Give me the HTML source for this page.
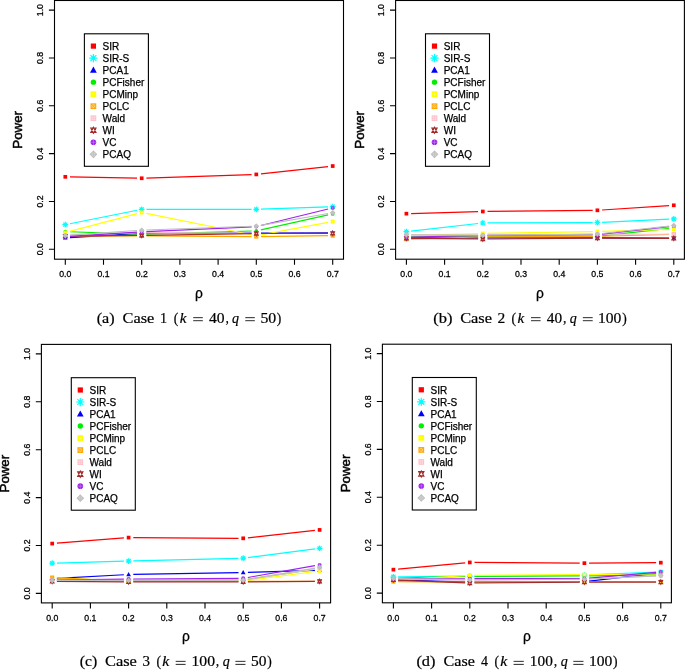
<!DOCTYPE html>
<html><head><meta charset="utf-8"><title>Power curves</title>
<style>html,body{margin:0;padding:0;background:#fff;}body{width:685px;height:670px;overflow:hidden;}svg{display:block;}</style>
</head><body>
<svg width="685" height="670" viewBox="0 0 685 670">
<defs><filter id="bl" x="0" y="0" width="1" height="1"><feGaussianBlur stdDeviation="0.3"/></filter></defs>
<rect width="685" height="670" fill="#fff"/>
<g filter="url(#bl)">
<path d="M70 176.91L137 178.17M146.4 178.1L251.6 174.59M260.97 173.92L328.03 166.57" stroke="#ff0000" stroke-width="1.2" fill="none"/>
<rect x="63.45" y="174.97" width="3.7" height="3.7" fill="#ff0000"/>
<rect x="139.85" y="176.41" width="3.7" height="3.7" fill="#ff0000"/>
<rect x="254.45" y="172.58" width="3.7" height="3.7" fill="#ff0000"/>
<rect x="330.85" y="164.21" width="3.7" height="3.7" fill="#ff0000"/>
<path d="M69.91 223.74L137.09 210.28M146.4 209.35L251.6 209.35M261 209.19L328 206.88" stroke="#00ffff" stroke-width="1.2" fill="none"/>
<path d="M62.41 224.66H68.19M65.3 221.78V227.55M63.26 222.62L67.34 226.7M63.26 226.7L67.34 222.62" stroke="#00ffff" stroke-width="1.2" fill="none"/><circle cx="65.3" cy="224.66" r="1.25" fill="#00ffff"/>
<path d="M138.81 209.35H144.59M141.7 206.47V212.24M139.66 207.31L143.74 211.39M139.66 211.39L143.74 207.31" stroke="#00ffff" stroke-width="1.2" fill="none"/><circle cx="141.7" cy="209.35" r="1.25" fill="#00ffff"/>
<path d="M253.41 209.35H259.19M256.3 206.47V212.24M254.26 207.31L258.34 211.39M254.26 211.39L258.34 207.31" stroke="#00ffff" stroke-width="1.2" fill="none"/><circle cx="256.3" cy="209.35" r="1.25" fill="#00ffff"/>
<path d="M329.81 206.72H335.59M332.7 203.84V209.61M330.66 204.68L334.74 208.76M330.66 208.76L334.74 204.68" stroke="#00ffff" stroke-width="1.2" fill="none"/><circle cx="332.7" cy="206.72" r="1.25" fill="#00ffff"/>
<path d="M69.99 237.54L137.01 233.55M146.4 233.26L251.6 233.04M261 233.02L328 232.81" stroke="#0000ff" stroke-width="1.2" fill="none"/>
<path d="M65.3 235.32L67.67 239.57L62.93 239.57Z" fill="#0000ff"/>
<path d="M141.7 230.78L144.07 235.02L139.33 235.02Z" fill="#0000ff"/>
<path d="M256.3 230.54L258.67 234.78L253.93 234.78Z" fill="#0000ff"/>
<path d="M332.7 230.3L335.07 234.54L330.33 234.54Z" fill="#0000ff"/>
<path d="M70 231.76L137 234.07M146.4 234.09L251.6 231.02M260.89 229.86L328.11 214.92" stroke="#00ee00" stroke-width="1.2" fill="none"/>
<circle cx="65.3" cy="231.6" r="1.87" fill="#00ee00"/>
<circle cx="141.7" cy="234.23" r="1.87" fill="#00ee00"/>
<circle cx="256.3" cy="230.88" r="1.87" fill="#00ee00"/>
<circle cx="332.7" cy="213.9" r="1.87" fill="#00ee00"/>
<path d="M69.85 231.36L137.15 213.66M146.31 213.4L251.69 234.73M260.92 234.81L328.08 222.41" stroke="#ffff00" stroke-width="1.2" fill="none"/>
<rect x="63.31" y="230.57" width="3.98" height="3.98" fill="#ffff00"/><rect x="64.75" y="232.01" width="1.1" height="1.1" fill="#fffbd0"/>
<rect x="139.71" y="210.47" width="3.98" height="3.98" fill="#ffff00"/><rect x="141.15" y="211.91" width="1.1" height="1.1" fill="#fffbd0"/>
<rect x="254.31" y="233.68" width="3.98" height="3.98" fill="#ffff00"/><rect x="255.75" y="235.12" width="1.1" height="1.1" fill="#fffbd0"/>
<rect x="330.71" y="219.56" width="3.98" height="3.98" fill="#ffff00"/><rect x="332.15" y="221" width="1.1" height="1.1" fill="#fffbd0"/>
<path d="M70 236.13L137 235.92M146.4 235.93L251.6 236.59M261 236.56L328 235.72" stroke="#ffa500" stroke-width="1.2" fill="none"/>
<rect x="63.85" y="234.69" width="2.9" height="2.9" fill="#fcd590" stroke="#ffa500" stroke-width="1.1"/><path d="M63.85 234.69L66.75 237.59M63.85 237.59L66.75 234.69" stroke="#ffa500" stroke-width="0.9"/>
<rect x="140.25" y="234.45" width="2.9" height="2.9" fill="#fcd590" stroke="#ffa500" stroke-width="1.1"/><path d="M140.25 234.45L143.15 237.35M140.25 237.35L143.15 234.45" stroke="#ffa500" stroke-width="0.9"/>
<rect x="254.85" y="235.17" width="2.9" height="2.9" fill="#fcd590" stroke="#ffa500" stroke-width="1.1"/><path d="M254.85 235.17L257.75 238.07M254.85 238.07L257.75 235.17" stroke="#ffa500" stroke-width="0.9"/>
<rect x="331.25" y="234.22" width="2.9" height="2.9" fill="#fcd590" stroke="#ffa500" stroke-width="1.1"/><path d="M331.25 234.22L334.15 237.12M331.25 237.12L334.15 234.22" stroke="#ffa500" stroke-width="0.9"/>
<path d="M70 235.47L137 232.75M146.4 232.6L251.6 233.47M261 233.51L328 233.51" stroke="#ffc0cb" stroke-width="1.2" fill="none"/>
<rect x="63.85" y="234.22" width="2.9" height="2.9" fill="#ffe0e6" stroke="#ffc0cb" stroke-width="1.1"/><path d="M63.85 235.67H66.75M65.3 234.22V237.12" stroke="#ffc0cb" stroke-width="0.8"/>
<rect x="140.25" y="231.11" width="2.9" height="2.9" fill="#ffe0e6" stroke="#ffc0cb" stroke-width="1.1"/><path d="M140.25 232.56H143.15M141.7 231.11V234.01" stroke="#ffc0cb" stroke-width="0.8"/>
<rect x="254.85" y="232.06" width="2.9" height="2.9" fill="#ffe0e6" stroke="#ffc0cb" stroke-width="1.1"/><path d="M254.85 233.51H257.75M256.3 232.06V234.96" stroke="#ffc0cb" stroke-width="0.8"/>
<rect x="331.25" y="232.06" width="2.9" height="2.9" fill="#ffe0e6" stroke="#ffc0cb" stroke-width="1.1"/><path d="M331.25 233.51H334.15M332.7 232.06V234.96" stroke="#ffc0cb" stroke-width="0.8"/>
<path d="M70 236.1L137 235.47M146.4 235.35L251.6 233.59M261 233.5L328 233.29" stroke="#a52a2a" stroke-width="1.2" fill="none"/>
<path d="M65.3 234.02L67.14 237.74L63.46 237.74ZM65.3 238.27L67.14 234.55L63.46 234.55Z" fill="none" stroke="#a52a2a" stroke-width="1.1" stroke-linejoin="miter"/>
<path d="M141.7 233.3L143.54 237.02L139.86 237.02ZM141.7 237.55L143.54 233.83L139.86 233.83Z" fill="none" stroke="#a52a2a" stroke-width="1.1" stroke-linejoin="miter"/>
<path d="M256.3 231.39L258.14 235.1L254.46 235.1ZM256.3 235.64L258.14 231.92L254.46 231.92Z" fill="none" stroke="#a52a2a" stroke-width="1.1" stroke-linejoin="miter"/>
<path d="M332.7 231.15L334.54 234.87L330.86 234.87ZM332.7 235.4L334.54 231.68L330.86 231.68Z" fill="none" stroke="#a52a2a" stroke-width="1.1" stroke-linejoin="miter"/>
<path d="M69.99 236.33L137.01 232.13M146.4 231.62L251.6 226.79M260.87 225.46L328.13 209.03" stroke="#a020f0" stroke-width="1.2" fill="none"/>
<circle cx="65.3" cy="236.62" r="1.95" fill="#a020f0"/><path d="M63.35 236.62H67.25M65.3 234.67V238.57" stroke="#c890f0" stroke-width="0.5"/>
<circle cx="141.7" cy="231.84" r="1.95" fill="#a020f0"/><path d="M139.75 231.84H143.65M141.7 229.89V233.79" stroke="#c890f0" stroke-width="0.5"/>
<circle cx="256.3" cy="226.58" r="1.95" fill="#a020f0"/><path d="M254.35 226.58H258.25M256.3 224.63V228.53" stroke="#c890f0" stroke-width="0.5"/>
<circle cx="332.7" cy="207.92" r="1.95" fill="#a020f0"/><path d="M330.75 207.92H334.65M332.7 205.97V209.87" stroke="#c890f0" stroke-width="0.5"/>
<path d="M69.99 235.1L137.01 230.49M146.4 230L251.6 226.26M260.93 225.29L328.07 213.51" stroke="#bebebe" stroke-width="1.2" fill="none"/>
<path d="M65.3 233.43L67.3 235.43L65.3 237.42L63.3 235.43Z" fill="#dcdcdc" stroke="#bebebe" stroke-width="1.1"/><path d="M63.3 235.43H67.3M65.3 233.43V237.42" stroke="#bebebe" stroke-width="0.8"/>
<path d="M141.7 228.17L143.7 230.16L141.7 232.16L139.7 230.16Z" fill="#dcdcdc" stroke="#bebebe" stroke-width="1.1"/><path d="M139.7 230.16H143.7M141.7 228.17V232.16" stroke="#bebebe" stroke-width="0.8"/>
<path d="M256.3 224.1L258.3 226.1L256.3 228.09L254.3 226.1Z" fill="#dcdcdc" stroke="#bebebe" stroke-width="1.1"/><path d="M254.3 226.1H258.3M256.3 224.1V228.09" stroke="#bebebe" stroke-width="0.8"/>
<path d="M332.7 210.71L334.7 212.7L332.7 214.7L330.7 212.7Z" fill="#dcdcdc" stroke="#bebebe" stroke-width="1.1"/><path d="M330.7 212.7H334.7M332.7 210.71V214.7" stroke="#bebebe" stroke-width="0.8"/>
<rect x="54.5" y="0.5" width="289" height="258.7" fill="none" stroke="#000" stroke-width="1.1"/>
<text transform="translate(42.6 249.3) rotate(-90) scale(0.94 1)" text-anchor="middle" font-family="Liberation Sans, sans-serif" stroke="#000" stroke-width="0.28" font-size="9.3">0.0</text>
<text transform="translate(42.6 201.46) rotate(-90) scale(0.94 1)" text-anchor="middle" font-family="Liberation Sans, sans-serif" stroke="#000" stroke-width="0.28" font-size="9.3">0.2</text>
<text transform="translate(42.6 153.62) rotate(-90) scale(0.94 1)" text-anchor="middle" font-family="Liberation Sans, sans-serif" stroke="#000" stroke-width="0.28" font-size="9.3">0.4</text>
<text transform="translate(42.6 105.78) rotate(-90) scale(0.94 1)" text-anchor="middle" font-family="Liberation Sans, sans-serif" stroke="#000" stroke-width="0.28" font-size="9.3">0.6</text>
<text transform="translate(42.6 57.94) rotate(-90) scale(0.94 1)" text-anchor="middle" font-family="Liberation Sans, sans-serif" stroke="#000" stroke-width="0.28" font-size="9.3">0.8</text>
<text transform="translate(42.6 10.1) rotate(-90) scale(0.94 1)" text-anchor="middle" font-family="Liberation Sans, sans-serif" stroke="#000" stroke-width="0.28" font-size="9.3">1.0</text>
<text transform="translate(65.3 277.3) scale(0.94 1)" text-anchor="middle" font-family="Liberation Sans, sans-serif" stroke="#000" stroke-width="0.28" font-size="9.3">0.0</text>
<text transform="translate(103.5 277.3) scale(0.94 1)" text-anchor="middle" font-family="Liberation Sans, sans-serif" stroke="#000" stroke-width="0.28" font-size="9.3">0.1</text>
<text transform="translate(141.7 277.3) scale(0.94 1)" text-anchor="middle" font-family="Liberation Sans, sans-serif" stroke="#000" stroke-width="0.28" font-size="9.3">0.2</text>
<text transform="translate(179.9 277.3) scale(0.94 1)" text-anchor="middle" font-family="Liberation Sans, sans-serif" stroke="#000" stroke-width="0.28" font-size="9.3">0.3</text>
<text transform="translate(218.1 277.3) scale(0.94 1)" text-anchor="middle" font-family="Liberation Sans, sans-serif" stroke="#000" stroke-width="0.28" font-size="9.3">0.4</text>
<text transform="translate(256.3 277.3) scale(0.94 1)" text-anchor="middle" font-family="Liberation Sans, sans-serif" stroke="#000" stroke-width="0.28" font-size="9.3">0.5</text>
<text transform="translate(294.5 277.3) scale(0.94 1)" text-anchor="middle" font-family="Liberation Sans, sans-serif" stroke="#000" stroke-width="0.28" font-size="9.3">0.6</text>
<text transform="translate(332.7 277.3) scale(0.94 1)" text-anchor="middle" font-family="Liberation Sans, sans-serif" stroke="#000" stroke-width="0.28" font-size="9.3">0.7</text>
<path d="M48.9 249.3H54.5M48.9 201.46H54.5M48.9 153.62H54.5M48.9 105.78H54.5M48.9 57.94H54.5M48.9 10.1H54.5M65.3 259.2V264.8M103.5 259.2V264.8M141.7 259.2V264.8M179.9 259.2V264.8M218.1 259.2V264.8M256.3 259.2V264.8M294.5 259.2V264.8M332.7 259.2V264.8" stroke="#000" stroke-width="1.1"/>
<text transform="translate(22.4 129.85) rotate(-90)" text-anchor="middle" font-family="Liberation Sans, sans-serif" stroke="#000" stroke-width="0.5" font-size="13.3">Power</text>
<text x="199" y="297.6" text-anchor="middle" font-family="Liberation Sans, sans-serif" stroke="#000" stroke-width="0.25" font-size="13.8">&#961;</text>
<rect x="84.4" y="33.8" width="64" height="132.5" fill="#fff" stroke="#000" stroke-width="1.1"/>
<rect x="90.8" y="43.5" width="5.2" height="5.2" fill="#ff0000"/>
<text x="102.6" y="50" font-family="Liberation Sans, sans-serif" stroke="#000" stroke-width="0.25" font-size="10">SIR</text>
<path d="M89.26 58.12H97.54M93.4 53.98V62.26M90.47 55.19L96.33 61.05M90.47 61.05L96.33 55.19" stroke="#00ffff" stroke-width="1.2" fill="none"/><circle cx="93.4" cy="58.12" r="1.79" fill="#00ffff"/>
<text x="102.6" y="62.02" font-family="Liberation Sans, sans-serif" stroke="#000" stroke-width="0.25" font-size="10">SIR-S</text>
<path d="M93.4 66.56L96.8 72.65L90 72.65Z" fill="#0000ff"/>
<text x="102.6" y="74.04" font-family="Liberation Sans, sans-serif" stroke="#000" stroke-width="0.25" font-size="10">PCA1</text>
<circle cx="93.4" cy="82.16" r="2.69" fill="#00ee00"/>
<text x="102.6" y="86.06" font-family="Liberation Sans, sans-serif" stroke="#000" stroke-width="0.25" font-size="10">PCFisher</text>
<rect x="90.54" y="91.32" width="5.71" height="5.71" fill="#ffff00"/><rect x="92.85" y="93.63" width="1.1" height="1.1" fill="#fffbd0"/>
<text x="102.6" y="98.08" font-family="Liberation Sans, sans-serif" stroke="#000" stroke-width="0.25" font-size="10">PCMinp</text>
<rect x="91.1" y="103.9" width="4.6" height="4.6" fill="#fcd590" stroke="#ffa500" stroke-width="1.1"/><path d="M91.1 103.9L95.7 108.5M91.1 108.5L95.7 103.9" stroke="#ffa500" stroke-width="0.9"/>
<text x="102.6" y="110.1" font-family="Liberation Sans, sans-serif" stroke="#000" stroke-width="0.25" font-size="10">PCLC</text>
<rect x="91.1" y="115.92" width="4.6" height="4.6" fill="#ffe0e6" stroke="#ffc0cb" stroke-width="1.1"/><path d="M91.1 118.22H95.7M93.4 115.92V120.52" stroke="#ffc0cb" stroke-width="0.8"/>
<text x="102.6" y="122.12" font-family="Liberation Sans, sans-serif" stroke="#000" stroke-width="0.25" font-size="10">Wald</text>
<path d="M93.4 127.19L96.04 132.53L90.76 132.53ZM93.4 133.29L96.04 127.95L90.76 127.95Z" fill="none" stroke="#a52a2a" stroke-width="1.1" stroke-linejoin="miter"/>
<text x="102.6" y="134.14" font-family="Liberation Sans, sans-serif" stroke="#000" stroke-width="0.25" font-size="10">WI</text>
<circle cx="93.4" cy="142.26" r="2.8" fill="#a020f0"/><path d="M90.6 142.26H96.2M93.4 139.46V145.06" stroke="#c890f0" stroke-width="0.5"/>
<text x="102.6" y="146.16" font-family="Liberation Sans, sans-serif" stroke="#000" stroke-width="0.25" font-size="10">VC</text>
<path d="M93.4 151.2L96.48 154.28L93.4 157.36L90.32 154.28Z" fill="#dcdcdc" stroke="#bebebe" stroke-width="1.1"/><path d="M90.32 154.28H96.48M93.4 151.2V157.36" stroke="#bebebe" stroke-width="0.8"/>
<text x="102.6" y="158.18" font-family="Liberation Sans, sans-serif" stroke="#000" stroke-width="0.25" font-size="10">PCAQ</text>
<text transform="translate(96.69 322.6) scale(1.187 1)" font-family="Liberation Serif, serif" stroke="#000" stroke-width="0.2" font-size="13.6">(a)</text>
<text transform="translate(122.53 322.6) scale(1.200 1)" font-family="Liberation Serif, serif" stroke="#000" stroke-width="0.2" font-size="13.6">Case</text>
<text transform="translate(159.95 322.6) scale(1.044 1)" font-family="Liberation Serif, serif" stroke="#000" stroke-width="0.2" font-size="13.6">1</text>
<text transform="translate(173.7 322.6) scale(1.000 1)" font-family="Liberation Serif, serif" stroke="#000" stroke-width="0.2" font-size="13.6">(</text>
<text transform="translate(179.76 322.6) scale(1.112 1)" font-family="Liberation Serif, serif" stroke="#000" stroke-width="0.2" font-size="13.6" font-style="italic">k</text>
<path d="M193.2 317.65H202.8M193.2 320.7H202.8" stroke="#222" stroke-width="0.95"/>
<text transform="translate(209 322.6) scale(1.147 1)" font-family="Liberation Serif, serif" stroke="#000" stroke-width="0.2" font-size="13.6">40</text>
<text transform="translate(225.48 322.6) scale(1.000 1)" font-family="Liberation Serif, serif" stroke="#000" stroke-width="0.2" font-size="13.6">,</text>
<text transform="translate(231.94 322.6) scale(1.028 1)" font-family="Liberation Serif, serif" stroke="#000" stroke-width="0.2" font-size="13.6" font-style="italic">q</text>
<path d="M245.3 317.65H254.8M245.3 320.7H254.8" stroke="#222" stroke-width="0.95"/>
<text transform="translate(260.38 322.6) scale(1.163 1)" font-family="Liberation Serif, serif" stroke="#000" stroke-width="0.2" font-size="13.6">50</text>
<text transform="translate(276.86 322.6) scale(1.000 1)" font-family="Liberation Serif, serif" stroke="#000" stroke-width="0.2" font-size="13.6">)</text>
<path d="M411.1 213.53L478.1 211.64M487.5 211.46L592.7 210.36M602.09 210L669.11 205.6" stroke="#ff0000" stroke-width="1.2" fill="none"/>
<rect x="404.55" y="211.81" width="3.7" height="3.7" fill="#ff0000"/>
<rect x="480.95" y="209.66" width="3.7" height="3.7" fill="#ff0000"/>
<rect x="595.55" y="208.46" width="3.7" height="3.7" fill="#ff0000"/>
<rect x="671.95" y="203.44" width="3.7" height="3.7" fill="#ff0000"/>
<path d="M411.07 231.07L478.13 223.51M487.5 222.97L592.7 222.53M602.09 222.29L669.11 219.14" stroke="#00ffff" stroke-width="1.2" fill="none"/>
<path d="M403.51 231.6H409.29M406.4 228.71V234.49M404.36 229.56L408.44 233.64M404.36 233.64L408.44 229.56" stroke="#00ffff" stroke-width="1.2" fill="none"/><circle cx="406.4" cy="231.6" r="1.25" fill="#00ffff"/>
<path d="M479.91 222.99H485.69M482.8 220.1V225.87M480.76 220.95L484.84 225.03M480.76 225.03L484.84 220.95" stroke="#00ffff" stroke-width="1.2" fill="none"/><circle cx="482.8" cy="222.99" r="1.25" fill="#00ffff"/>
<path d="M594.51 222.51H600.29M597.4 219.62V225.4M595.36 220.47L599.44 224.55M595.36 224.55L599.44 220.47" stroke="#00ffff" stroke-width="1.2" fill="none"/><circle cx="597.4" cy="222.51" r="1.25" fill="#00ffff"/>
<path d="M670.91 218.92H676.69M673.8 216.04V221.81M671.76 216.88L675.84 220.96M671.76 220.96L675.84 216.88" stroke="#00ffff" stroke-width="1.2" fill="none"/><circle cx="673.8" cy="218.92" r="1.25" fill="#00ffff"/>
<path d="M411.1 237.82L478.1 237.82M487.5 237.82L592.7 237.82M602.1 237.83L669.1 238.04" stroke="#0000ff" stroke-width="1.2" fill="none"/>
<path d="M406.4 235.32L408.77 239.57L404.03 239.57Z" fill="#0000ff"/>
<path d="M482.8 235.32L485.17 239.57L480.43 239.57Z" fill="#0000ff"/>
<path d="M597.4 235.32L599.77 239.57L595.03 239.57Z" fill="#0000ff"/>
<path d="M673.8 235.56L676.17 239.8L671.43 239.8Z" fill="#0000ff"/>
<path d="M411.1 236.14L478.1 236.14M487.5 236.15L592.7 236.37M602.07 235.86L669.13 228.3" stroke="#00ee00" stroke-width="1.2" fill="none"/>
<circle cx="406.4" cy="236.14" r="1.87" fill="#00ee00"/>
<circle cx="482.8" cy="236.14" r="1.87" fill="#00ee00"/>
<circle cx="597.4" cy="236.38" r="1.87" fill="#00ee00"/>
<circle cx="673.8" cy="227.77" r="1.87" fill="#00ee00"/>
<path d="M411.1 235.31L478.1 233.63M487.5 233.43L592.7 231.68M602.1 231.45L669.1 229.35" stroke="#ffff00" stroke-width="1.2" fill="none"/>
<rect x="404.41" y="233.44" width="3.98" height="3.98" fill="#ffff00"/><rect x="405.85" y="234.88" width="1.1" height="1.1" fill="#fffbd0"/>
<rect x="480.81" y="231.52" width="3.98" height="3.98" fill="#ffff00"/><rect x="482.25" y="232.96" width="1.1" height="1.1" fill="#fffbd0"/>
<rect x="595.41" y="229.61" width="3.98" height="3.98" fill="#ffff00"/><rect x="596.85" y="231.05" width="1.1" height="1.1" fill="#fffbd0"/>
<rect x="671.81" y="227.22" width="3.98" height="3.98" fill="#ffff00"/><rect x="673.25" y="228.66" width="1.1" height="1.1" fill="#fffbd0"/>
<path d="M411.1 239.11L478.1 237.01M487.5 236.84L592.7 236.4M602.1 236.25L669.1 234.36" stroke="#ffa500" stroke-width="1.2" fill="none"/>
<rect x="404.95" y="237.8" width="2.9" height="2.9" fill="#fcd590" stroke="#ffa500" stroke-width="1.1"/><path d="M404.95 237.8L407.85 240.7M404.95 240.7L407.85 237.8" stroke="#ffa500" stroke-width="0.9"/>
<rect x="481.35" y="235.41" width="2.9" height="2.9" fill="#fcd590" stroke="#ffa500" stroke-width="1.1"/><path d="M481.35 235.41L484.25 238.31M481.35 238.31L484.25 235.41" stroke="#ffa500" stroke-width="0.9"/>
<rect x="595.95" y="234.93" width="2.9" height="2.9" fill="#fcd590" stroke="#ffa500" stroke-width="1.1"/><path d="M595.95 234.93L598.85 237.83M595.95 237.83L598.85 234.93" stroke="#ffa500" stroke-width="0.9"/>
<rect x="672.35" y="232.78" width="2.9" height="2.9" fill="#fcd590" stroke="#ffa500" stroke-width="1.1"/><path d="M672.35 232.78L675.25 235.68M672.35 235.68L675.25 232.78" stroke="#ffa500" stroke-width="0.9"/>
<path d="M411.1 234.98L478.1 235.4M487.5 235.38L592.7 234.28M602.1 234.23L669.1 234.23" stroke="#ffc0cb" stroke-width="1.2" fill="none"/>
<rect x="404.95" y="233.5" width="2.9" height="2.9" fill="#ffe0e6" stroke="#ffc0cb" stroke-width="1.1"/><path d="M404.95 234.95H407.85M406.4 233.5V236.4" stroke="#ffc0cb" stroke-width="0.8"/>
<rect x="481.35" y="233.98" width="2.9" height="2.9" fill="#ffe0e6" stroke="#ffc0cb" stroke-width="1.1"/><path d="M481.35 235.43H484.25M482.8 233.98V236.88" stroke="#ffc0cb" stroke-width="0.8"/>
<rect x="595.95" y="232.78" width="2.9" height="2.9" fill="#ffe0e6" stroke="#ffc0cb" stroke-width="1.1"/><path d="M595.95 234.23H598.85M597.4 232.78V235.68" stroke="#ffc0cb" stroke-width="0.8"/>
<rect x="672.35" y="232.78" width="2.9" height="2.9" fill="#ffe0e6" stroke="#ffc0cb" stroke-width="1.1"/><path d="M672.35 234.23H675.25M673.8 232.78V235.68" stroke="#ffc0cb" stroke-width="0.8"/>
<path d="M411.1 238.34L478.1 238.97M487.5 238.98L592.7 238.1M602.1 238.07L669.1 238.28" stroke="#a52a2a" stroke-width="1.2" fill="none"/>
<path d="M406.4 236.17L408.24 239.89L404.56 239.89ZM406.4 240.42L408.24 236.71L404.56 236.71Z" fill="none" stroke="#a52a2a" stroke-width="1.1" stroke-linejoin="miter"/>
<path d="M482.8 236.89L484.64 240.61L480.96 240.61ZM482.8 241.14L484.64 237.42L480.96 237.42Z" fill="none" stroke="#a52a2a" stroke-width="1.1" stroke-linejoin="miter"/>
<path d="M597.4 235.94L599.24 239.65L595.56 239.65ZM597.4 240.18L599.24 236.47L595.56 236.47Z" fill="none" stroke="#a52a2a" stroke-width="1.1" stroke-linejoin="miter"/>
<path d="M673.8 236.17L675.64 239.89L671.96 239.89ZM673.8 240.42L675.64 236.71L671.96 236.71Z" fill="none" stroke="#a52a2a" stroke-width="1.1" stroke-linejoin="miter"/>
<path d="M411.1 237L478.1 235.53M487.5 235.4L592.7 234.74M602.07 234.18L669.13 226.62" stroke="#a020f0" stroke-width="1.2" fill="none"/>
<circle cx="406.4" cy="237.1" r="1.95" fill="#a020f0"/><path d="M404.45 237.1H408.35M406.4 235.15V239.05" stroke="#c890f0" stroke-width="0.5"/>
<circle cx="482.8" cy="235.43" r="1.95" fill="#a020f0"/><path d="M480.85 235.43H484.75M482.8 233.48V237.38" stroke="#c890f0" stroke-width="0.5"/>
<circle cx="597.4" cy="234.71" r="1.95" fill="#a020f0"/><path d="M595.45 234.71H599.35M597.4 232.76V236.66" stroke="#c890f0" stroke-width="0.5"/>
<circle cx="673.8" cy="226.1" r="1.95" fill="#a020f0"/><path d="M671.85 226.1H675.75M673.8 224.15V228.05" stroke="#c890f0" stroke-width="0.5"/>
<path d="M411.1 234.74L478.1 235.16M487.5 235.14L592.7 234.04M602.07 233.48L669.13 226.13" stroke="#bebebe" stroke-width="1.2" fill="none"/>
<path d="M406.4 232.71L408.4 234.71L406.4 236.7L404.4 234.71Z" fill="#dcdcdc" stroke="#bebebe" stroke-width="1.1"/><path d="M404.4 234.71H408.4M406.4 232.71V236.7" stroke="#bebebe" stroke-width="0.8"/>
<path d="M482.8 233.19L484.8 235.19L482.8 237.18L480.8 235.19Z" fill="#dcdcdc" stroke="#bebebe" stroke-width="1.1"/><path d="M480.8 235.19H484.8M482.8 233.19V237.18" stroke="#bebebe" stroke-width="0.8"/>
<path d="M597.4 232L599.4 233.99L597.4 235.99L595.4 233.99Z" fill="#dcdcdc" stroke="#bebebe" stroke-width="1.1"/><path d="M595.4 233.99H599.4M597.4 232V235.99" stroke="#bebebe" stroke-width="0.8"/>
<path d="M673.8 223.62L675.8 225.62L673.8 227.62L671.8 225.62Z" fill="#dcdcdc" stroke="#bebebe" stroke-width="1.1"/><path d="M671.8 225.62H675.8M673.8 223.62V227.62" stroke="#bebebe" stroke-width="0.8"/>
<rect x="395.6" y="0.5" width="288.8" height="258.7" fill="none" stroke="#000" stroke-width="1.1"/>
<text transform="translate(383.7 249.3) rotate(-90) scale(0.94 1)" text-anchor="middle" font-family="Liberation Sans, sans-serif" stroke="#000" stroke-width="0.28" font-size="9.3">0.0</text>
<text transform="translate(383.7 201.46) rotate(-90) scale(0.94 1)" text-anchor="middle" font-family="Liberation Sans, sans-serif" stroke="#000" stroke-width="0.28" font-size="9.3">0.2</text>
<text transform="translate(383.7 153.62) rotate(-90) scale(0.94 1)" text-anchor="middle" font-family="Liberation Sans, sans-serif" stroke="#000" stroke-width="0.28" font-size="9.3">0.4</text>
<text transform="translate(383.7 105.78) rotate(-90) scale(0.94 1)" text-anchor="middle" font-family="Liberation Sans, sans-serif" stroke="#000" stroke-width="0.28" font-size="9.3">0.6</text>
<text transform="translate(383.7 57.94) rotate(-90) scale(0.94 1)" text-anchor="middle" font-family="Liberation Sans, sans-serif" stroke="#000" stroke-width="0.28" font-size="9.3">0.8</text>
<text transform="translate(383.7 10.1) rotate(-90) scale(0.94 1)" text-anchor="middle" font-family="Liberation Sans, sans-serif" stroke="#000" stroke-width="0.28" font-size="9.3">1.0</text>
<text transform="translate(406.4 277.3) scale(0.94 1)" text-anchor="middle" font-family="Liberation Sans, sans-serif" stroke="#000" stroke-width="0.28" font-size="9.3">0.0</text>
<text transform="translate(444.6 277.3) scale(0.94 1)" text-anchor="middle" font-family="Liberation Sans, sans-serif" stroke="#000" stroke-width="0.28" font-size="9.3">0.1</text>
<text transform="translate(482.8 277.3) scale(0.94 1)" text-anchor="middle" font-family="Liberation Sans, sans-serif" stroke="#000" stroke-width="0.28" font-size="9.3">0.2</text>
<text transform="translate(521 277.3) scale(0.94 1)" text-anchor="middle" font-family="Liberation Sans, sans-serif" stroke="#000" stroke-width="0.28" font-size="9.3">0.3</text>
<text transform="translate(559.2 277.3) scale(0.94 1)" text-anchor="middle" font-family="Liberation Sans, sans-serif" stroke="#000" stroke-width="0.28" font-size="9.3">0.4</text>
<text transform="translate(597.4 277.3) scale(0.94 1)" text-anchor="middle" font-family="Liberation Sans, sans-serif" stroke="#000" stroke-width="0.28" font-size="9.3">0.5</text>
<text transform="translate(635.6 277.3) scale(0.94 1)" text-anchor="middle" font-family="Liberation Sans, sans-serif" stroke="#000" stroke-width="0.28" font-size="9.3">0.6</text>
<text transform="translate(673.8 277.3) scale(0.94 1)" text-anchor="middle" font-family="Liberation Sans, sans-serif" stroke="#000" stroke-width="0.28" font-size="9.3">0.7</text>
<path d="M390 249.3H395.6M390 201.46H395.6M390 153.62H395.6M390 105.78H395.6M390 57.94H395.6M390 10.1H395.6M406.4 259.2V264.8M444.6 259.2V264.8M482.8 259.2V264.8M521 259.2V264.8M559.2 259.2V264.8M597.4 259.2V264.8M635.6 259.2V264.8M673.8 259.2V264.8" stroke="#000" stroke-width="1.1"/>
<text transform="translate(363.5 129.85) rotate(-90)" text-anchor="middle" font-family="Liberation Sans, sans-serif" stroke="#000" stroke-width="0.5" font-size="13.3">Power</text>
<text x="540" y="297.6" text-anchor="middle" font-family="Liberation Sans, sans-serif" stroke="#000" stroke-width="0.25" font-size="13.8">&#961;</text>
<rect x="425.5" y="33.8" width="64" height="132.5" fill="#fff" stroke="#000" stroke-width="1.1"/>
<rect x="431.9" y="43.5" width="5.2" height="5.2" fill="#ff0000"/>
<text x="443.7" y="50" font-family="Liberation Sans, sans-serif" stroke="#000" stroke-width="0.25" font-size="10">SIR</text>
<path d="M430.36 58.12H438.64M434.5 53.98V62.26M431.57 55.19L437.43 61.05M431.57 61.05L437.43 55.19" stroke="#00ffff" stroke-width="1.2" fill="none"/><circle cx="434.5" cy="58.12" r="1.79" fill="#00ffff"/>
<text x="443.7" y="62.02" font-family="Liberation Sans, sans-serif" stroke="#000" stroke-width="0.25" font-size="10">SIR-S</text>
<path d="M434.5 66.56L437.9 72.65L431.1 72.65Z" fill="#0000ff"/>
<text x="443.7" y="74.04" font-family="Liberation Sans, sans-serif" stroke="#000" stroke-width="0.25" font-size="10">PCA1</text>
<circle cx="434.5" cy="82.16" r="2.69" fill="#00ee00"/>
<text x="443.7" y="86.06" font-family="Liberation Sans, sans-serif" stroke="#000" stroke-width="0.25" font-size="10">PCFisher</text>
<rect x="431.64" y="91.32" width="5.71" height="5.71" fill="#ffff00"/><rect x="433.95" y="93.63" width="1.1" height="1.1" fill="#fffbd0"/>
<text x="443.7" y="98.08" font-family="Liberation Sans, sans-serif" stroke="#000" stroke-width="0.25" font-size="10">PCMinp</text>
<rect x="432.2" y="103.9" width="4.6" height="4.6" fill="#fcd590" stroke="#ffa500" stroke-width="1.1"/><path d="M432.2 103.9L436.8 108.5M432.2 108.5L436.8 103.9" stroke="#ffa500" stroke-width="0.9"/>
<text x="443.7" y="110.1" font-family="Liberation Sans, sans-serif" stroke="#000" stroke-width="0.25" font-size="10">PCLC</text>
<rect x="432.2" y="115.92" width="4.6" height="4.6" fill="#ffe0e6" stroke="#ffc0cb" stroke-width="1.1"/><path d="M432.2 118.22H436.8M434.5 115.92V120.52" stroke="#ffc0cb" stroke-width="0.8"/>
<text x="443.7" y="122.12" font-family="Liberation Sans, sans-serif" stroke="#000" stroke-width="0.25" font-size="10">Wald</text>
<path d="M434.5 127.19L437.14 132.53L431.86 132.53ZM434.5 133.29L437.14 127.95L431.86 127.95Z" fill="none" stroke="#a52a2a" stroke-width="1.1" stroke-linejoin="miter"/>
<text x="443.7" y="134.14" font-family="Liberation Sans, sans-serif" stroke="#000" stroke-width="0.25" font-size="10">WI</text>
<circle cx="434.5" cy="142.26" r="2.8" fill="#a020f0"/><path d="M431.7 142.26H437.3M434.5 139.46V145.06" stroke="#c890f0" stroke-width="0.5"/>
<text x="443.7" y="146.16" font-family="Liberation Sans, sans-serif" stroke="#000" stroke-width="0.25" font-size="10">VC</text>
<path d="M434.5 151.2L437.58 154.28L434.5 157.36L431.42 154.28Z" fill="#dcdcdc" stroke="#bebebe" stroke-width="1.1"/><path d="M431.42 154.28H437.58M434.5 151.2V157.36" stroke="#bebebe" stroke-width="0.8"/>
<text x="443.7" y="158.18" font-family="Liberation Sans, sans-serif" stroke="#000" stroke-width="0.25" font-size="10">PCAQ</text>
<text transform="translate(433.27 322.6) scale(1.214 1)" font-family="Liberation Serif, serif" stroke="#000" stroke-width="0.2" font-size="13.6">(b)</text>
<text transform="translate(460.13 322.6) scale(1.204 1)" font-family="Liberation Serif, serif" stroke="#000" stroke-width="0.2" font-size="13.6">Case</text>
<text transform="translate(497.62 322.6) scale(1.137 1)" font-family="Liberation Serif, serif" stroke="#000" stroke-width="0.2" font-size="13.6">2</text>
<text transform="translate(511.4 322.6) scale(1.000 1)" font-family="Liberation Serif, serif" stroke="#000" stroke-width="0.2" font-size="13.6">(</text>
<text transform="translate(517.46 322.6) scale(1.112 1)" font-family="Liberation Serif, serif" stroke="#000" stroke-width="0.2" font-size="13.6" font-style="italic">k</text>
<path d="M531 317.65H540.6M531 320.7H540.6" stroke="#222" stroke-width="0.95"/>
<text transform="translate(546.8 322.6) scale(1.124 1)" font-family="Liberation Serif, serif" stroke="#000" stroke-width="0.2" font-size="13.6">40</text>
<text transform="translate(563.08 322.6) scale(1.000 1)" font-family="Liberation Serif, serif" stroke="#000" stroke-width="0.2" font-size="13.6">,</text>
<text transform="translate(569.84 322.6) scale(1.028 1)" font-family="Liberation Serif, serif" stroke="#000" stroke-width="0.2" font-size="13.6" font-style="italic">q</text>
<path d="M582.8 317.65H592.7M582.8 320.7H592.7" stroke="#222" stroke-width="0.95"/>
<text transform="translate(598.03 322.6) scale(1.145 1)" font-family="Liberation Serif, serif" stroke="#000" stroke-width="0.2" font-size="13.6">100</text>
<text transform="translate(622.36 322.6) scale(1.000 1)" font-family="Liberation Serif, serif" stroke="#000" stroke-width="0.2" font-size="13.6">)</text>
<path d="M56.89 543.22L123.91 537.96M133.3 537.63L238.5 538.29M247.87 537.8L314.93 530.45" stroke="#ff0000" stroke-width="1.2" fill="none"/>
<rect x="50.35" y="541.73" width="3.7" height="3.7" fill="#ff0000"/>
<rect x="126.75" y="535.75" width="3.7" height="3.7" fill="#ff0000"/>
<rect x="241.35" y="536.46" width="3.7" height="3.7" fill="#ff0000"/>
<rect x="317.75" y="528.08" width="3.7" height="3.7" fill="#ff0000"/>
<path d="M56.9 563.09L123.9 561.2M133.3 560.95L238.5 558.31M247.86 557.59L314.94 548.97" stroke="#00ffff" stroke-width="1.2" fill="none"/>
<path d="M49.31 563.22H55.09M52.2 560.34V566.11M50.16 561.18L54.24 565.26M50.16 565.26L54.24 561.18" stroke="#00ffff" stroke-width="1.2" fill="none"/><circle cx="52.2" cy="563.22" r="1.25" fill="#00ffff"/>
<path d="M125.71 561.07H131.49M128.6 558.18V563.95M126.56 559.03L130.64 563.11M126.56 563.11L130.64 559.03" stroke="#00ffff" stroke-width="1.2" fill="none"/><circle cx="128.6" cy="561.07" r="1.25" fill="#00ffff"/>
<path d="M240.31 558.19H246.09M243.2 555.31V561.08M241.16 556.15L245.24 560.23M241.16 560.23L245.24 556.15" stroke="#00ffff" stroke-width="1.2" fill="none"/><circle cx="243.2" cy="558.19" r="1.25" fill="#00ffff"/>
<path d="M316.71 548.37H322.49M319.6 545.49V551.26M317.56 546.33L321.64 550.41M317.56 550.41L321.64 546.33" stroke="#00ffff" stroke-width="1.2" fill="none"/><circle cx="319.6" cy="548.37" r="1.25" fill="#00ffff"/>
<path d="M56.89 578.3L123.91 574.73M133.3 574.4L238.5 572.64M247.9 572.42L314.9 570.32" stroke="#0000ff" stroke-width="1.2" fill="none"/>
<path d="M52.2 576.05L54.57 580.3L49.83 580.3Z" fill="#0000ff"/>
<path d="M128.6 571.98L130.97 576.23L126.23 576.23Z" fill="#0000ff"/>
<path d="M243.2 570.07L245.57 574.31L240.83 574.31Z" fill="#0000ff"/>
<path d="M319.6 567.67L321.97 571.92L317.23 571.92Z" fill="#0000ff"/>
<path d="M56.9 580L123.9 580.21M133.3 580.22L238.5 580M247.85 579.29L314.95 569.19" stroke="#00ee00" stroke-width="1.2" fill="none"/>
<circle cx="52.2" cy="579.99" r="1.87" fill="#00ee00"/>
<circle cx="128.6" cy="580.23" r="1.87" fill="#00ee00"/>
<circle cx="243.2" cy="579.99" r="1.87" fill="#00ee00"/>
<circle cx="319.6" cy="568.49" r="1.87" fill="#00ee00"/>
<path d="M56.9 577.8L123.9 580.74M133.3 580.95L238.5 580.95M247.86 580.33L314.94 571.5" stroke="#ffff00" stroke-width="1.2" fill="none"/>
<rect x="50.21" y="575.6" width="3.98" height="3.98" fill="#ffff00"/><rect x="51.65" y="577.04" width="1.1" height="1.1" fill="#fffbd0"/>
<rect x="126.61" y="578.96" width="3.98" height="3.98" fill="#ffff00"/><rect x="128.05" y="580.4" width="1.1" height="1.1" fill="#fffbd0"/>
<rect x="241.21" y="578.96" width="3.98" height="3.98" fill="#ffff00"/><rect x="242.65" y="580.4" width="1.1" height="1.1" fill="#fffbd0"/>
<rect x="317.61" y="568.9" width="3.98" height="3.98" fill="#ffff00"/><rect x="319.05" y="570.34" width="1.1" height="1.1" fill="#fffbd0"/>
<path d="M56.89 577.83L123.91 581.19M133.3 581.42L238.5 581.42M247.9 581.42L314.9 581.42" stroke="#ffa500" stroke-width="1.2" fill="none"/>
<rect x="50.75" y="576.14" width="2.9" height="2.9" fill="#fcd590" stroke="#ffa500" stroke-width="1.1"/><path d="M50.75 576.14L53.65 579.04M50.75 579.04L53.65 576.14" stroke="#ffa500" stroke-width="0.9"/>
<rect x="127.15" y="579.97" width="2.9" height="2.9" fill="#fcd590" stroke="#ffa500" stroke-width="1.1"/><path d="M127.15 579.97L130.05 582.88M127.15 582.88L130.05 579.97" stroke="#ffa500" stroke-width="0.9"/>
<rect x="241.75" y="579.97" width="2.9" height="2.9" fill="#fcd590" stroke="#ffa500" stroke-width="1.1"/><path d="M241.75 579.97L244.65 582.88M241.75 582.88L244.65 579.97" stroke="#ffa500" stroke-width="0.9"/>
<rect x="318.15" y="579.97" width="2.9" height="2.9" fill="#fcd590" stroke="#ffa500" stroke-width="1.1"/><path d="M318.15 579.97L321.05 582.88M318.15 582.88L321.05 579.97" stroke="#ffa500" stroke-width="0.9"/>
<path d="M56.9 579.99L123.9 579.99M133.3 579.99L238.5 579.99M247.85 579.29L314.95 569.19" stroke="#ffc0cb" stroke-width="1.2" fill="none"/>
<rect x="50.75" y="578.54" width="2.9" height="2.9" fill="#ffe0e6" stroke="#ffc0cb" stroke-width="1.1"/><path d="M50.75 579.99H53.65M52.2 578.54V581.44" stroke="#ffc0cb" stroke-width="0.8"/>
<rect x="127.15" y="578.54" width="2.9" height="2.9" fill="#ffe0e6" stroke="#ffc0cb" stroke-width="1.1"/><path d="M127.15 579.99H130.05M128.6 578.54V581.44" stroke="#ffc0cb" stroke-width="0.8"/>
<rect x="241.75" y="578.54" width="2.9" height="2.9" fill="#ffe0e6" stroke="#ffc0cb" stroke-width="1.1"/><path d="M241.75 579.99H244.65M243.2 578.54V581.44" stroke="#ffc0cb" stroke-width="0.8"/>
<rect x="318.15" y="567.04" width="2.9" height="2.9" fill="#ffe0e6" stroke="#ffc0cb" stroke-width="1.1"/><path d="M318.15 568.49H321.05M319.6 567.04V569.94" stroke="#ffc0cb" stroke-width="0.8"/>
<path d="M56.9 581.45L123.9 581.87M133.3 581.9L238.5 581.9M247.9 581.87L314.9 581.45" stroke="#a52a2a" stroke-width="1.2" fill="none"/>
<path d="M52.2 579.3L54.04 583.02L50.36 583.02ZM52.2 583.55L54.04 579.83L50.36 579.83Z" fill="none" stroke="#a52a2a" stroke-width="1.1" stroke-linejoin="miter"/>
<path d="M128.6 579.78L130.44 583.5L126.76 583.5ZM128.6 584.03L130.44 580.31L126.76 580.31Z" fill="none" stroke="#a52a2a" stroke-width="1.1" stroke-linejoin="miter"/>
<path d="M243.2 579.78L245.04 583.5L241.36 583.5ZM243.2 584.03L245.04 580.31L241.36 580.31Z" fill="none" stroke="#a52a2a" stroke-width="1.1" stroke-linejoin="miter"/>
<path d="M319.6 579.3L321.44 583.02L317.76 583.02ZM319.6 583.55L321.44 579.83L317.76 579.83Z" fill="none" stroke="#a52a2a" stroke-width="1.1" stroke-linejoin="miter"/>
<path d="M56.9 580.15L123.9 579.1M133.3 579L238.5 578.34M247.83 577.5L314.97 565.71" stroke="#a020f0" stroke-width="1.2" fill="none"/>
<circle cx="52.2" cy="580.23" r="1.95" fill="#a020f0"/><path d="M50.25 580.23H54.15M52.2 578.28V582.18" stroke="#c890f0" stroke-width="0.5"/>
<circle cx="128.6" cy="579.03" r="1.95" fill="#a020f0"/><path d="M126.65 579.03H130.55M128.6 577.08V580.98" stroke="#c890f0" stroke-width="0.5"/>
<circle cx="243.2" cy="578.31" r="1.95" fill="#a020f0"/><path d="M241.25 578.31H245.15M243.2 576.36V580.26" stroke="#c890f0" stroke-width="0.5"/>
<circle cx="319.6" cy="564.9" r="1.95" fill="#a020f0"/><path d="M317.65 564.9H321.55M319.6 562.95V566.85" stroke="#c890f0" stroke-width="0.5"/>
<path d="M56.9 580.47L123.9 580.47M133.3 580.46L238.5 580.24M247.83 579.44L314.97 568.08" stroke="#bebebe" stroke-width="1.2" fill="none"/>
<path d="M52.2 578.47L54.2 580.47L52.2 582.46L50.2 580.47Z" fill="#dcdcdc" stroke="#bebebe" stroke-width="1.1"/><path d="M50.2 580.47H54.2M52.2 578.47V582.46" stroke="#bebebe" stroke-width="0.8"/>
<path d="M128.6 578.47L130.6 580.47L128.6 582.46L126.6 580.47Z" fill="#dcdcdc" stroke="#bebebe" stroke-width="1.1"/><path d="M126.6 580.47H130.6M128.6 578.47V582.46" stroke="#bebebe" stroke-width="0.8"/>
<path d="M243.2 578.23L245.2 580.23L243.2 582.22L241.2 580.23Z" fill="#dcdcdc" stroke="#bebebe" stroke-width="1.1"/><path d="M241.2 580.23H245.2M243.2 578.23V582.22" stroke="#bebebe" stroke-width="0.8"/>
<path d="M319.6 565.3L321.6 567.29L319.6 569.29L317.6 567.29Z" fill="#dcdcdc" stroke="#bebebe" stroke-width="1.1"/><path d="M317.6 567.29H321.6M319.6 565.3V569.29" stroke="#bebebe" stroke-width="0.8"/>
<rect x="41.4" y="344.4" width="289.2" height="258.5" fill="none" stroke="#000" stroke-width="1.1"/>
<text transform="translate(29.5 593.4) rotate(-90) scale(0.94 1)" text-anchor="middle" font-family="Liberation Sans, sans-serif" stroke="#000" stroke-width="0.28" font-size="9.3">0.0</text>
<text transform="translate(29.5 545.5) rotate(-90) scale(0.94 1)" text-anchor="middle" font-family="Liberation Sans, sans-serif" stroke="#000" stroke-width="0.28" font-size="9.3">0.2</text>
<text transform="translate(29.5 497.6) rotate(-90) scale(0.94 1)" text-anchor="middle" font-family="Liberation Sans, sans-serif" stroke="#000" stroke-width="0.28" font-size="9.3">0.4</text>
<text transform="translate(29.5 449.7) rotate(-90) scale(0.94 1)" text-anchor="middle" font-family="Liberation Sans, sans-serif" stroke="#000" stroke-width="0.28" font-size="9.3">0.6</text>
<text transform="translate(29.5 401.8) rotate(-90) scale(0.94 1)" text-anchor="middle" font-family="Liberation Sans, sans-serif" stroke="#000" stroke-width="0.28" font-size="9.3">0.8</text>
<text transform="translate(29.5 353.9) rotate(-90) scale(0.94 1)" text-anchor="middle" font-family="Liberation Sans, sans-serif" stroke="#000" stroke-width="0.28" font-size="9.3">1.0</text>
<text transform="translate(52.2 621) scale(0.94 1)" text-anchor="middle" font-family="Liberation Sans, sans-serif" stroke="#000" stroke-width="0.28" font-size="9.3">0.0</text>
<text transform="translate(90.4 621) scale(0.94 1)" text-anchor="middle" font-family="Liberation Sans, sans-serif" stroke="#000" stroke-width="0.28" font-size="9.3">0.1</text>
<text transform="translate(128.6 621) scale(0.94 1)" text-anchor="middle" font-family="Liberation Sans, sans-serif" stroke="#000" stroke-width="0.28" font-size="9.3">0.2</text>
<text transform="translate(166.8 621) scale(0.94 1)" text-anchor="middle" font-family="Liberation Sans, sans-serif" stroke="#000" stroke-width="0.28" font-size="9.3">0.3</text>
<text transform="translate(205 621) scale(0.94 1)" text-anchor="middle" font-family="Liberation Sans, sans-serif" stroke="#000" stroke-width="0.28" font-size="9.3">0.4</text>
<text transform="translate(243.2 621) scale(0.94 1)" text-anchor="middle" font-family="Liberation Sans, sans-serif" stroke="#000" stroke-width="0.28" font-size="9.3">0.5</text>
<text transform="translate(281.4 621) scale(0.94 1)" text-anchor="middle" font-family="Liberation Sans, sans-serif" stroke="#000" stroke-width="0.28" font-size="9.3">0.6</text>
<text transform="translate(319.6 621) scale(0.94 1)" text-anchor="middle" font-family="Liberation Sans, sans-serif" stroke="#000" stroke-width="0.28" font-size="9.3">0.7</text>
<path d="M35.8 593.4H41.4M35.8 545.5H41.4M35.8 497.6H41.4M35.8 449.7H41.4M35.8 401.8H41.4M35.8 353.9H41.4M52.2 602.9V608.5M90.4 602.9V608.5M128.6 602.9V608.5M166.8 602.9V608.5M205 602.9V608.5M243.2 602.9V608.5M281.4 602.9V608.5M319.6 602.9V608.5" stroke="#000" stroke-width="1.1"/>
<text transform="translate(9.3 473.65) rotate(-90)" text-anchor="middle" font-family="Liberation Sans, sans-serif" stroke="#000" stroke-width="0.5" font-size="13.3">Power</text>
<text x="186" y="641.3" text-anchor="middle" font-family="Liberation Sans, sans-serif" stroke="#000" stroke-width="0.25" font-size="13.8">&#961;</text>
<rect x="71.3" y="377.7" width="64" height="132.5" fill="#fff" stroke="#000" stroke-width="1.1"/>
<rect x="77.7" y="387.4" width="5.2" height="5.2" fill="#ff0000"/>
<text x="89.5" y="393.9" font-family="Liberation Sans, sans-serif" stroke="#000" stroke-width="0.25" font-size="10">SIR</text>
<path d="M76.16 402.02H84.44M80.3 397.88V406.16M77.37 399.09L83.23 404.95M77.37 404.95L83.23 399.09" stroke="#00ffff" stroke-width="1.2" fill="none"/><circle cx="80.3" cy="402.02" r="1.79" fill="#00ffff"/>
<text x="89.5" y="405.92" font-family="Liberation Sans, sans-serif" stroke="#000" stroke-width="0.25" font-size="10">SIR-S</text>
<path d="M80.3 410.46L83.7 416.55L76.9 416.55Z" fill="#0000ff"/>
<text x="89.5" y="417.94" font-family="Liberation Sans, sans-serif" stroke="#000" stroke-width="0.25" font-size="10">PCA1</text>
<circle cx="80.3" cy="426.06" r="2.69" fill="#00ee00"/>
<text x="89.5" y="429.96" font-family="Liberation Sans, sans-serif" stroke="#000" stroke-width="0.25" font-size="10">PCFisher</text>
<rect x="77.44" y="435.22" width="5.71" height="5.71" fill="#ffff00"/><rect x="79.75" y="437.53" width="1.1" height="1.1" fill="#fffbd0"/>
<text x="89.5" y="441.98" font-family="Liberation Sans, sans-serif" stroke="#000" stroke-width="0.25" font-size="10">PCMinp</text>
<rect x="78" y="447.8" width="4.6" height="4.6" fill="#fcd590" stroke="#ffa500" stroke-width="1.1"/><path d="M78 447.8L82.6 452.4M78 452.4L82.6 447.8" stroke="#ffa500" stroke-width="0.9"/>
<text x="89.5" y="454" font-family="Liberation Sans, sans-serif" stroke="#000" stroke-width="0.25" font-size="10">PCLC</text>
<rect x="78" y="459.82" width="4.6" height="4.6" fill="#ffe0e6" stroke="#ffc0cb" stroke-width="1.1"/><path d="M78 462.12H82.6M80.3 459.82V464.42" stroke="#ffc0cb" stroke-width="0.8"/>
<text x="89.5" y="466.02" font-family="Liberation Sans, sans-serif" stroke="#000" stroke-width="0.25" font-size="10">Wald</text>
<path d="M80.3 471.09L82.94 476.43L77.66 476.43ZM80.3 477.19L82.94 471.85L77.66 471.85Z" fill="none" stroke="#a52a2a" stroke-width="1.1" stroke-linejoin="miter"/>
<text x="89.5" y="478.04" font-family="Liberation Sans, sans-serif" stroke="#000" stroke-width="0.25" font-size="10">WI</text>
<circle cx="80.3" cy="486.16" r="2.8" fill="#a020f0"/><path d="M77.5 486.16H83.1M80.3 483.36V488.96" stroke="#c890f0" stroke-width="0.5"/>
<text x="89.5" y="490.06" font-family="Liberation Sans, sans-serif" stroke="#000" stroke-width="0.25" font-size="10">VC</text>
<path d="M80.3 495.1L83.38 498.18L80.3 501.26L77.22 498.18Z" fill="#dcdcdc" stroke="#bebebe" stroke-width="1.1"/><path d="M77.22 498.18H83.38M80.3 495.1V501.26" stroke="#bebebe" stroke-width="0.8"/>
<text x="89.5" y="502.08" font-family="Liberation Sans, sans-serif" stroke="#000" stroke-width="0.25" font-size="10">PCAQ</text>
<text transform="translate(79.81 666.3) scale(1.158 1)" font-family="Liberation Serif, serif" stroke="#000" stroke-width="0.2" font-size="13.6">(c)</text>
<text transform="translate(104.93 666.3) scale(1.208 1)" font-family="Liberation Serif, serif" stroke="#000" stroke-width="0.2" font-size="13.6">Case</text>
<text transform="translate(142.58 666.3) scale(1.104 1)" font-family="Liberation Serif, serif" stroke="#000" stroke-width="0.2" font-size="13.6">3</text>
<text transform="translate(156.5 666.3) scale(1.000 1)" font-family="Liberation Serif, serif" stroke="#000" stroke-width="0.2" font-size="13.6">(</text>
<text transform="translate(162.14 666.3) scale(1.164 1)" font-family="Liberation Serif, serif" stroke="#000" stroke-width="0.2" font-size="13.6" font-style="italic">k</text>
<path d="M175.7 661.35H185.6M175.7 664.4H185.6" stroke="#222" stroke-width="0.95"/>
<text transform="translate(191.42 666.3) scale(1.156 1)" font-family="Liberation Serif, serif" stroke="#000" stroke-width="0.2" font-size="13.6">100</text>
<text transform="translate(215.78 666.3) scale(1.000 1)" font-family="Liberation Serif, serif" stroke="#000" stroke-width="0.2" font-size="13.6">,</text>
<text transform="translate(222.64 666.3) scale(1.028 1)" font-family="Liberation Serif, serif" stroke="#000" stroke-width="0.2" font-size="13.6" font-style="italic">q</text>
<path d="M235.4 661.35H245.5M235.4 664.4H245.5" stroke="#222" stroke-width="0.95"/>
<text transform="translate(251 666.3) scale(1.139 1)" font-family="Liberation Serif, serif" stroke="#000" stroke-width="0.2" font-size="13.6">50</text>
<text transform="translate(267.26 666.3) scale(1.000 1)" font-family="Liberation Serif, serif" stroke="#000" stroke-width="0.2" font-size="13.6">)</text>
<path d="M398.08 569.19L465.12 562.88M474.5 562.47L579.7 563.13M589.1 563.13L656.1 562.71" stroke="#ff0000" stroke-width="1.2" fill="none"/>
<rect x="391.55" y="567.78" width="3.7" height="3.7" fill="#ff0000"/>
<rect x="467.95" y="560.59" width="3.7" height="3.7" fill="#ff0000"/>
<rect x="582.55" y="561.31" width="3.7" height="3.7" fill="#ff0000"/>
<rect x="658.95" y="560.83" width="3.7" height="3.7" fill="#ff0000"/>
<path d="M398.1 576.77L465.1 576.14M474.5 576.06L579.7 575.18M589.1 574.95L656.1 572.22" stroke="#00ffff" stroke-width="1.2" fill="none"/>
<path d="M390.51 576.81H396.29M393.4 573.93V579.7M391.36 574.77L395.44 578.85M391.36 578.85L395.44 574.77" stroke="#00ffff" stroke-width="1.2" fill="none"/><circle cx="393.4" cy="576.81" r="1.25" fill="#00ffff"/>
<path d="M466.91 576.1H472.69M469.8 573.21V578.98M467.76 574.06L471.84 578.14M467.76 578.14L471.84 574.06" stroke="#00ffff" stroke-width="1.2" fill="none"/><circle cx="469.8" cy="576.1" r="1.25" fill="#00ffff"/>
<path d="M581.51 575.14H587.29M584.4 572.25V578.02M582.36 573.1L586.44 577.18M582.36 577.18L586.44 573.1" stroke="#00ffff" stroke-width="1.2" fill="none"/><circle cx="584.4" cy="575.14" r="1.25" fill="#00ffff"/>
<path d="M657.91 572.02H663.69M660.8 569.14V574.91M658.76 569.98L662.84 574.06M658.76 574.06L662.84 569.98" stroke="#00ffff" stroke-width="1.2" fill="none"/><circle cx="660.8" cy="572.02" r="1.25" fill="#00ffff"/>
<path d="M398.1 580.06L465.1 581.95M474.5 582.06L579.7 581.62M589.07 581.06L656.13 573.28" stroke="#0000ff" stroke-width="1.2" fill="none"/>
<path d="M393.4 577.43L395.77 581.67L391.03 581.67Z" fill="#0000ff"/>
<path d="M469.8 579.59L472.17 583.83L467.43 583.83Z" fill="#0000ff"/>
<path d="M584.4 579.11L586.77 583.35L582.03 583.35Z" fill="#0000ff"/>
<path d="M660.8 570.25L663.17 574.49L658.43 574.49Z" fill="#0000ff"/>
<path d="M398.1 578.13L465.1 576.45M474.5 576.32L579.7 575.88M589.1 575.78L656.1 574.73" stroke="#00ee00" stroke-width="1.2" fill="none"/>
<circle cx="393.4" cy="578.25" r="1.87" fill="#00ee00"/>
<circle cx="469.8" cy="576.34" r="1.87" fill="#00ee00"/>
<circle cx="584.4" cy="575.86" r="1.87" fill="#00ee00"/>
<circle cx="660.8" cy="574.66" r="1.87" fill="#00ee00"/>
<path d="M398.09 579.87L465.11 575.67M474.5 575.35L579.7 574.69M589.1 574.61L656.1 573.98" stroke="#ffff00" stroke-width="1.2" fill="none"/>
<rect x="391.41" y="578.18" width="3.98" height="3.98" fill="#ffff00"/><rect x="392.85" y="579.62" width="1.1" height="1.1" fill="#fffbd0"/>
<rect x="467.81" y="573.39" width="3.98" height="3.98" fill="#ffff00"/><rect x="469.25" y="574.83" width="1.1" height="1.1" fill="#fffbd0"/>
<rect x="582.41" y="572.67" width="3.98" height="3.98" fill="#ffff00"/><rect x="583.85" y="574.11" width="1.1" height="1.1" fill="#fffbd0"/>
<rect x="658.81" y="571.95" width="3.98" height="3.98" fill="#ffff00"/><rect x="660.25" y="573.39" width="1.1" height="1.1" fill="#fffbd0"/>
<path d="M398.1 581.63L465.1 582.05M474.5 582.06L579.7 581.62M589.1 581.6L656.1 581.6" stroke="#ffa500" stroke-width="1.2" fill="none"/>
<rect x="391.95" y="580.15" width="2.9" height="2.9" fill="#fcd590" stroke="#ffa500" stroke-width="1.1"/><path d="M391.95 580.15L394.85 583.05M391.95 583.05L394.85 580.15" stroke="#ffa500" stroke-width="0.9"/>
<rect x="468.35" y="580.63" width="2.9" height="2.9" fill="#fcd590" stroke="#ffa500" stroke-width="1.1"/><path d="M468.35 580.63L471.25 583.53M468.35 583.53L471.25 580.63" stroke="#ffa500" stroke-width="0.9"/>
<rect x="582.95" y="580.15" width="2.9" height="2.9" fill="#fcd590" stroke="#ffa500" stroke-width="1.1"/><path d="M582.95 580.15L585.85 583.05M582.95 583.05L585.85 580.15" stroke="#ffa500" stroke-width="0.9"/>
<rect x="659.35" y="580.15" width="2.9" height="2.9" fill="#fcd590" stroke="#ffa500" stroke-width="1.1"/><path d="M659.35 580.15L662.25 583.05M659.35 583.05L662.25 580.15" stroke="#ffa500" stroke-width="0.9"/>
<path d="M398.1 578.8L465.1 579.85M474.5 579.9L579.7 579.24M589.09 578.99L656.11 575.84" stroke="#ffc0cb" stroke-width="1.2" fill="none"/>
<rect x="391.95" y="577.28" width="2.9" height="2.9" fill="#ffe0e6" stroke="#ffc0cb" stroke-width="1.1"/><path d="M391.95 578.73H394.85M393.4 577.28V580.18" stroke="#ffc0cb" stroke-width="0.8"/>
<rect x="468.35" y="578.48" width="2.9" height="2.9" fill="#ffe0e6" stroke="#ffc0cb" stroke-width="1.1"/><path d="M468.35 579.93H471.25M469.8 578.48V581.38" stroke="#ffc0cb" stroke-width="0.8"/>
<rect x="582.95" y="577.76" width="2.9" height="2.9" fill="#ffe0e6" stroke="#ffc0cb" stroke-width="1.1"/><path d="M582.95 579.21H585.85M584.4 577.76V580.66" stroke="#ffc0cb" stroke-width="0.8"/>
<rect x="659.35" y="574.17" width="2.9" height="2.9" fill="#ffe0e6" stroke="#ffc0cb" stroke-width="1.1"/><path d="M659.35 575.62H662.25M660.8 574.17V577.07" stroke="#ffc0cb" stroke-width="0.8"/>
<path d="M398.1 580.12L465.1 582.85M474.5 583L579.7 582.12M589.1 582.08L656.1 582.08" stroke="#a52a2a" stroke-width="1.2" fill="none"/>
<path d="M393.4 577.8L395.24 581.52L391.56 581.52ZM393.4 582.05L395.24 578.34L391.56 578.34Z" fill="none" stroke="#a52a2a" stroke-width="1.1" stroke-linejoin="miter"/>
<path d="M469.8 580.92L471.64 584.63L467.96 584.63ZM469.8 585.16L471.64 581.45L467.96 581.45Z" fill="none" stroke="#a52a2a" stroke-width="1.1" stroke-linejoin="miter"/>
<path d="M584.4 579.96L586.24 583.67L582.56 583.67ZM584.4 584.21L586.24 580.49L582.56 580.49Z" fill="none" stroke="#a52a2a" stroke-width="1.1" stroke-linejoin="miter"/>
<path d="M660.8 579.96L662.64 583.67L658.96 583.67ZM660.8 584.21L662.64 580.49L658.96 580.49Z" fill="none" stroke="#a52a2a" stroke-width="1.1" stroke-linejoin="miter"/>
<path d="M398.1 578.73L465.1 578.73M474.5 578.72L579.7 578.5M589.08 578.09L656.12 572.42" stroke="#a020f0" stroke-width="1.2" fill="none"/>
<circle cx="393.4" cy="578.73" r="1.95" fill="#a020f0"/><path d="M391.45 578.73H395.35M393.4 576.78V580.68" stroke="#c890f0" stroke-width="0.5"/>
<circle cx="469.8" cy="578.73" r="1.95" fill="#a020f0"/><path d="M467.85 578.73H471.75M469.8 576.78V580.68" stroke="#c890f0" stroke-width="0.5"/>
<circle cx="584.4" cy="578.49" r="1.95" fill="#a020f0"/><path d="M582.45 578.49H586.35M584.4 576.54V580.44" stroke="#c890f0" stroke-width="0.5"/>
<circle cx="660.8" cy="572.02" r="1.95" fill="#a020f0"/><path d="M658.85 572.02H662.75M660.8 570.07V573.97" stroke="#c890f0" stroke-width="0.5"/>
<path d="M398.1 578.58L465.1 579.84M474.5 579.9L579.7 579.24M589.09 578.99L656.11 575.84" stroke="#bebebe" stroke-width="1.2" fill="none"/>
<path d="M393.4 576.49L395.4 578.49L393.4 580.49L391.4 578.49Z" fill="#dcdcdc" stroke="#bebebe" stroke-width="1.1"/><path d="M391.4 578.49H395.4M393.4 576.49V580.49" stroke="#bebebe" stroke-width="0.8"/>
<path d="M469.8 577.93L471.8 579.93L469.8 581.92L467.8 579.93Z" fill="#dcdcdc" stroke="#bebebe" stroke-width="1.1"/><path d="M467.8 579.93H471.8M469.8 577.93V581.92" stroke="#bebebe" stroke-width="0.8"/>
<path d="M584.4 577.21L586.4 579.21L584.4 581.21L582.4 579.21Z" fill="#dcdcdc" stroke="#bebebe" stroke-width="1.1"/><path d="M582.4 579.21H586.4M584.4 577.21V581.21" stroke="#bebebe" stroke-width="0.8"/>
<path d="M660.8 573.62L662.8 575.62L660.8 577.61L658.8 575.62Z" fill="#dcdcdc" stroke="#bebebe" stroke-width="1.1"/><path d="M658.8 575.62H662.8M660.8 573.62V577.61" stroke="#bebebe" stroke-width="0.8"/>
<rect x="382.4" y="344.2" width="289" height="258.6" fill="none" stroke="#000" stroke-width="1.1"/>
<text transform="translate(370.5 593.1) rotate(-90) scale(0.94 1)" text-anchor="middle" font-family="Liberation Sans, sans-serif" stroke="#000" stroke-width="0.28" font-size="9.3">0.0</text>
<text transform="translate(370.5 545.2) rotate(-90) scale(0.94 1)" text-anchor="middle" font-family="Liberation Sans, sans-serif" stroke="#000" stroke-width="0.28" font-size="9.3">0.2</text>
<text transform="translate(370.5 497.3) rotate(-90) scale(0.94 1)" text-anchor="middle" font-family="Liberation Sans, sans-serif" stroke="#000" stroke-width="0.28" font-size="9.3">0.4</text>
<text transform="translate(370.5 449.4) rotate(-90) scale(0.94 1)" text-anchor="middle" font-family="Liberation Sans, sans-serif" stroke="#000" stroke-width="0.28" font-size="9.3">0.6</text>
<text transform="translate(370.5 401.5) rotate(-90) scale(0.94 1)" text-anchor="middle" font-family="Liberation Sans, sans-serif" stroke="#000" stroke-width="0.28" font-size="9.3">0.8</text>
<text transform="translate(370.5 353.6) rotate(-90) scale(0.94 1)" text-anchor="middle" font-family="Liberation Sans, sans-serif" stroke="#000" stroke-width="0.28" font-size="9.3">1.0</text>
<text transform="translate(393.4 620.9) scale(0.94 1)" text-anchor="middle" font-family="Liberation Sans, sans-serif" stroke="#000" stroke-width="0.28" font-size="9.3">0.0</text>
<text transform="translate(431.6 620.9) scale(0.94 1)" text-anchor="middle" font-family="Liberation Sans, sans-serif" stroke="#000" stroke-width="0.28" font-size="9.3">0.1</text>
<text transform="translate(469.8 620.9) scale(0.94 1)" text-anchor="middle" font-family="Liberation Sans, sans-serif" stroke="#000" stroke-width="0.28" font-size="9.3">0.2</text>
<text transform="translate(508 620.9) scale(0.94 1)" text-anchor="middle" font-family="Liberation Sans, sans-serif" stroke="#000" stroke-width="0.28" font-size="9.3">0.3</text>
<text transform="translate(546.2 620.9) scale(0.94 1)" text-anchor="middle" font-family="Liberation Sans, sans-serif" stroke="#000" stroke-width="0.28" font-size="9.3">0.4</text>
<text transform="translate(584.4 620.9) scale(0.94 1)" text-anchor="middle" font-family="Liberation Sans, sans-serif" stroke="#000" stroke-width="0.28" font-size="9.3">0.5</text>
<text transform="translate(622.6 620.9) scale(0.94 1)" text-anchor="middle" font-family="Liberation Sans, sans-serif" stroke="#000" stroke-width="0.28" font-size="9.3">0.6</text>
<text transform="translate(660.8 620.9) scale(0.94 1)" text-anchor="middle" font-family="Liberation Sans, sans-serif" stroke="#000" stroke-width="0.28" font-size="9.3">0.7</text>
<path d="M376.8 593.1H382.4M376.8 545.2H382.4M376.8 497.3H382.4M376.8 449.4H382.4M376.8 401.5H382.4M376.8 353.6H382.4M393.4 602.8V608.4M431.6 602.8V608.4M469.8 602.8V608.4M508 602.8V608.4M546.2 602.8V608.4M584.4 602.8V608.4M622.6 602.8V608.4M660.8 602.8V608.4" stroke="#000" stroke-width="1.1"/>
<text transform="translate(350.3 473.5) rotate(-90)" text-anchor="middle" font-family="Liberation Sans, sans-serif" stroke="#000" stroke-width="0.5" font-size="13.3">Power</text>
<text x="526.9" y="641.2" text-anchor="middle" font-family="Liberation Sans, sans-serif" stroke="#000" stroke-width="0.25" font-size="13.8">&#961;</text>
<rect x="412.3" y="377.5" width="64" height="132.5" fill="#fff" stroke="#000" stroke-width="1.1"/>
<rect x="418.7" y="387.2" width="5.2" height="5.2" fill="#ff0000"/>
<text x="430.5" y="393.7" font-family="Liberation Sans, sans-serif" stroke="#000" stroke-width="0.25" font-size="10">SIR</text>
<path d="M417.16 401.82H425.44M421.3 397.68V405.96M418.37 398.89L424.23 404.75M418.37 404.75L424.23 398.89" stroke="#00ffff" stroke-width="1.2" fill="none"/><circle cx="421.3" cy="401.82" r="1.79" fill="#00ffff"/>
<text x="430.5" y="405.72" font-family="Liberation Sans, sans-serif" stroke="#000" stroke-width="0.25" font-size="10">SIR-S</text>
<path d="M421.3 410.26L424.7 416.35L417.9 416.35Z" fill="#0000ff"/>
<text x="430.5" y="417.74" font-family="Liberation Sans, sans-serif" stroke="#000" stroke-width="0.25" font-size="10">PCA1</text>
<circle cx="421.3" cy="425.86" r="2.69" fill="#00ee00"/>
<text x="430.5" y="429.76" font-family="Liberation Sans, sans-serif" stroke="#000" stroke-width="0.25" font-size="10">PCFisher</text>
<rect x="418.44" y="435.02" width="5.71" height="5.71" fill="#ffff00"/><rect x="420.75" y="437.33" width="1.1" height="1.1" fill="#fffbd0"/>
<text x="430.5" y="441.78" font-family="Liberation Sans, sans-serif" stroke="#000" stroke-width="0.25" font-size="10">PCMinp</text>
<rect x="419" y="447.6" width="4.6" height="4.6" fill="#fcd590" stroke="#ffa500" stroke-width="1.1"/><path d="M419 447.6L423.6 452.2M419 452.2L423.6 447.6" stroke="#ffa500" stroke-width="0.9"/>
<text x="430.5" y="453.8" font-family="Liberation Sans, sans-serif" stroke="#000" stroke-width="0.25" font-size="10">PCLC</text>
<rect x="419" y="459.62" width="4.6" height="4.6" fill="#ffe0e6" stroke="#ffc0cb" stroke-width="1.1"/><path d="M419 461.92H423.6M421.3 459.62V464.22" stroke="#ffc0cb" stroke-width="0.8"/>
<text x="430.5" y="465.82" font-family="Liberation Sans, sans-serif" stroke="#000" stroke-width="0.25" font-size="10">Wald</text>
<path d="M421.3 470.89L423.94 476.23L418.66 476.23ZM421.3 476.99L423.94 471.65L418.66 471.65Z" fill="none" stroke="#a52a2a" stroke-width="1.1" stroke-linejoin="miter"/>
<text x="430.5" y="477.84" font-family="Liberation Sans, sans-serif" stroke="#000" stroke-width="0.25" font-size="10">WI</text>
<circle cx="421.3" cy="485.96" r="2.8" fill="#a020f0"/><path d="M418.5 485.96H424.1M421.3 483.16V488.76" stroke="#c890f0" stroke-width="0.5"/>
<text x="430.5" y="489.86" font-family="Liberation Sans, sans-serif" stroke="#000" stroke-width="0.25" font-size="10">VC</text>
<path d="M421.3 494.9L424.38 497.98L421.3 501.06L418.22 497.98Z" fill="#dcdcdc" stroke="#bebebe" stroke-width="1.1"/><path d="M418.22 497.98H424.38M421.3 494.9V501.06" stroke="#bebebe" stroke-width="0.8"/>
<text x="430.5" y="501.88" font-family="Liberation Sans, sans-serif" stroke="#000" stroke-width="0.25" font-size="10">PCAQ</text>
<text transform="translate(416.38 666.3) scale(1.200 1)" font-family="Liberation Serif, serif" stroke="#000" stroke-width="0.2" font-size="13.6">(d)</text>
<text transform="translate(443.54 666.3) scale(1.185 1)" font-family="Liberation Serif, serif" stroke="#000" stroke-width="0.2" font-size="13.6">Case</text>
<text transform="translate(480.93 666.3) scale(1.028 1)" font-family="Liberation Serif, serif" stroke="#000" stroke-width="0.2" font-size="13.6">4</text>
<text transform="translate(494.6 666.3) scale(1.000 1)" font-family="Liberation Serif, serif" stroke="#000" stroke-width="0.2" font-size="13.6">(</text>
<text transform="translate(500.34 666.3) scale(1.164 1)" font-family="Liberation Serif, serif" stroke="#000" stroke-width="0.2" font-size="13.6" font-style="italic">k</text>
<path d="M513.6 661.35H523.8M513.6 664.4H523.8" stroke="#222" stroke-width="0.95"/>
<text transform="translate(529.86 666.3) scale(1.124 1)" font-family="Liberation Serif, serif" stroke="#000" stroke-width="0.2" font-size="13.6">100</text>
<text transform="translate(553.68 666.3) scale(1.000 1)" font-family="Liberation Serif, serif" stroke="#000" stroke-width="0.2" font-size="13.6">,</text>
<text transform="translate(560.74 666.3) scale(1.028 1)" font-family="Liberation Serif, serif" stroke="#000" stroke-width="0.2" font-size="13.6" font-style="italic">q</text>
<path d="M573.3 661.35H583.5M573.3 664.4H583.5" stroke="#222" stroke-width="0.95"/>
<text transform="translate(589.03 666.3) scale(1.145 1)" font-family="Liberation Serif, serif" stroke="#000" stroke-width="0.2" font-size="13.6">100</text>
<text transform="translate(613.06 666.3) scale(1.000 1)" font-family="Liberation Serif, serif" stroke="#000" stroke-width="0.2" font-size="13.6">)</text>
</g>
</svg>
</body></html>
